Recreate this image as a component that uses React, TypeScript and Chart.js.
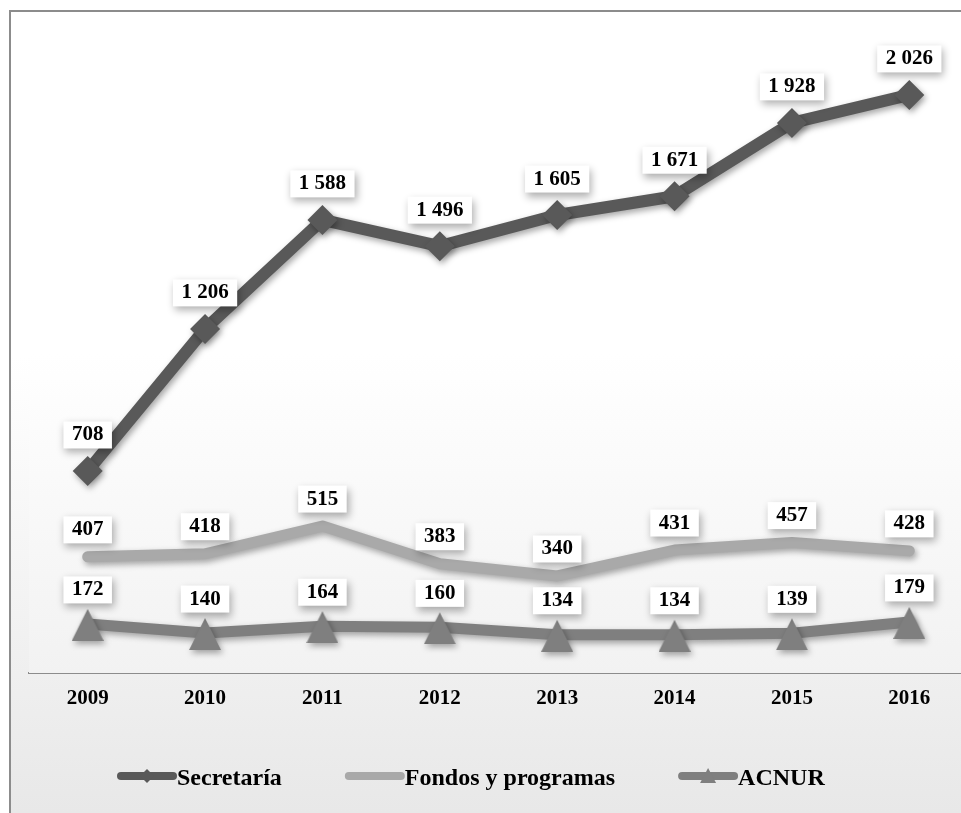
import React, { useEffect, useRef } from "react";
import { Chart, registerables } from "chart.js";

Chart.register(...registerables);

// Staff figures by year and group
const years = ["2009", "2010", "2011", "2012", "2013", "2014", "2015", "2016"];
const secretaria = [708, 1206, 1588, 1496, 1605, 1671, 1928, 2026];
const fondos = [407, 418, 515, 383, 340, 431, 457, 428];
const acnur = [172, 140, 164, 160, 134, 134, 139, 179];
const seriesNames = ["Secretaría", "Fondos y programas", "ACNUR"];
const seriesColors = ["#595959", "#a9a9a9", "#7f7f7f"];

const FONT = '"Liberation Serif", "Times New Roman", serif';
const CANVAS_W = 976;
const CANVAS_H = 820;

// distance from point to the centre of its value box, per series
const labelOffsets = [36, 27, 34];

function fmt(v: number): string {
  return String(v).replace(/\B(?=(\d{3})+(?!\d))/g, " ");
}

function makeTriangle(w: number, h: number, padTop: number, color: string): HTMLCanvasElement {
  const c = document.createElement("canvas");
  c.width = w;
  c.height = h + padTop;
  const ctx = c.getContext("2d")!;
  ctx.fillStyle = color;
  ctx.beginPath();
  ctx.moveTo(w / 2, padTop);
  ctx.lineTo(w, h + padTop);
  ctx.lineTo(0, h + padTop);
  ctx.closePath();
  ctx.fill();
  return c;
}

const plotBackground = {
  id: "plotBackground",
  beforeDatasetsDraw(chart: any) {
    const { ctx, chartArea } = chart;
    const g = ctx.createLinearGradient(0, chartArea.top, 0, chartArea.bottom);
    g.addColorStop(0, "#ffffff");
    g.addColorStop(0.5, "#ffffff");
    g.addColorStop(1, "#f2f2f2");
    ctx.save();
    ctx.fillStyle = g;
    ctx.fillRect(chartArea.left, chartArea.top, chartArea.right - chartArea.left, chartArea.bottom - chartArea.top);
    ctx.restore();
  },
};

const lineShadow = {
  id: "lineShadow",
  beforeDatasetDraw(chart: any) {
    const ctx = chart.ctx;
    ctx.save();
    ctx.shadowColor = "rgba(0,0,0,0.35)";
    ctx.shadowBlur = 6;
    ctx.shadowOffsetX = 2;
    ctx.shadowOffsetY = 3;
  },
  afterDatasetDraw(chart: any) {
    chart.ctx.restore();
  },
};

const valueLabels = {
  id: "valueLabels",
  afterDatasetsDraw(chart: any) {
    const ctx = chart.ctx;
    ctx.save();
    ctx.font = `bold 21px ${FONT}`;
    chart.data.datasets.forEach((ds: any, i: number) => {
      const meta = chart.getDatasetMeta(i);
      meta.data.forEach((pt: any, j: number) => {
        const text = fmt(ds.data[j]);
        const tw = ctx.measureText(text).width;
        const bw = tw + 17;
        const bh = 27;
        const cx = pt.x;
        const cy = pt.y - labelOffsets[i];
        ctx.save();
        ctx.shadowColor = "rgba(0,0,0,0.32)";
        ctx.shadowBlur = 8;
        ctx.shadowOffsetX = 2;
        ctx.shadowOffsetY = 4;
        ctx.fillStyle = "#ffffff";
        ctx.fillRect(cx - bw / 2, cy - bh / 2, bw, bh);
        ctx.restore();
        ctx.fillStyle = "#000000";
        ctx.textAlign = "center";
        ctx.textBaseline = "alphabetic";
        ctx.fillText(text, cx, cy + 5.5);
      });
    });
    ctx.restore();
  },
};

const lineLegend = {
  id: "lineLegend",
  afterDraw(chart: any) {
    const ctx = chart.ctx;
    const y = 764;
    let x = 106;
    ctx.save();
    ctx.font = `bold 24px ${FONT}`;
    chart.data.datasets.forEach((ds: any, i: number) => {
      const color = ds.borderColor;
      ctx.strokeStyle = color;
      ctx.lineWidth = 8;
      ctx.lineCap = "round";
      ctx.beginPath();
      ctx.moveTo(x + 4, y);
      ctx.lineTo(x + 56, y);
      ctx.stroke();
      const mx = x + 30;
      ctx.fillStyle = color;
      if (i === 0) {
        ctx.beginPath();
        ctx.moveTo(mx - 7, y);
        ctx.lineTo(mx, y - 7);
        ctx.lineTo(mx + 7, y);
        ctx.lineTo(mx, y + 7);
        ctx.closePath();
        ctx.fill();
      } else if (i === 2) {
        ctx.beginPath();
        ctx.moveTo(mx, y - 8);
        ctx.lineTo(mx + 8, y + 7);
        ctx.lineTo(mx - 8, y + 7);
        ctx.closePath();
        ctx.fill();
      }
      ctx.fillStyle = "#000000";
      ctx.textAlign = "left";
      ctx.textBaseline = "alphabetic";
      ctx.fillText(ds.label, x + 60, y + 9);
      x += 60 + ctx.measureText(ds.label).width + 63;
    });
    ctx.restore();
  },
};

export default function App() {
  const canvasRef = useRef<HTMLCanvasElement | null>(null);

  useEffect(() => {
    const canvas = canvasRef.current;
    if (!canvas) return;
    const triangle = makeTriangle(32, 32, 2, seriesColors[2]);
    const chart = new Chart(canvas, {
      type: "line",
      data: {
        labels: years,
        datasets: [
          {
            label: seriesNames[0],
            data: secretaria,
            borderColor: seriesColors[0],
            backgroundColor: seriesColors[0],
            borderWidth: 12,
            borderCapStyle: "round",
            borderJoinStyle: "round",
            pointStyle: "rectRot",
            pointRadius: 15,
            pointBorderWidth: 0,
            pointBackgroundColor: seriesColors[0],
          },
          {
            label: seriesNames[1],
            data: fondos,
            borderColor: seriesColors[1],
            backgroundColor: seriesColors[1],
            borderWidth: 11,
            borderCapStyle: "round",
            borderJoinStyle: "round",
            pointRadius: 0,
          },
          {
            label: seriesNames[2],
            data: acnur,
            borderColor: seriesColors[2],
            backgroundColor: seriesColors[2],
            borderWidth: 11,
            borderCapStyle: "round",
            borderJoinStyle: "round",
            pointStyle: triangle as any,
            pointRadius: 16,
          },
        ],
      },
      options: {
        animation: false,
        responsive: false,
        devicePixelRatio: 1,
        layout: { autoPadding: false, padding: { left: 18, right: 19, top: 19, bottom: 119 } },
        plugins: {
          legend: { display: false },
          tooltip: { enabled: false },
        },
        scales: {
          x: {
            offset: true,
            grid: { display: false, drawTicks: false },
            border: { display: true, color: "#8c8c8c", width: 2 },
            ticks: {
              color: "#000000",
              padding: 13,
              font: { family: FONT, size: 21, weight: "bold" },
            },
            afterFit: (scale: any) => {
              scale.height = 40;
              scale.paddingLeft = 0;
              scale.paddingRight = 0;
            },
          },
          y: { display: false, min: 0, max: 2250 },
        },
      },
      plugins: [plotBackground, lineShadow, valueLabels, lineLegend],
    });
    return () => chart.destroy();
  }, []);

  return (
    <div
      style={{
        position: "fixed",
        left: 0,
        top: 0,
        width: 961,
        height: 813,
        overflow: "hidden",
        background: "#ffffff",
      }}
    >
      <div
        style={{
          position: "absolute",
          left: 9,
          top: 10,
          width: CANVAS_W,
          height: CANVAS_H,
          border: "2px solid #8c8c8c",
          background: "linear-gradient(to bottom, #ffffff 0%, #ffffff 42%, #e7e7e7 100%)",
        }}
      >
        <canvas
          ref={canvasRef}
          width={CANVAS_W}
          height={CANVAS_H}
          style={{ display: "block", width: CANVAS_W, height: CANVAS_H }}
        />
      </div>
    </div>
  );
}
